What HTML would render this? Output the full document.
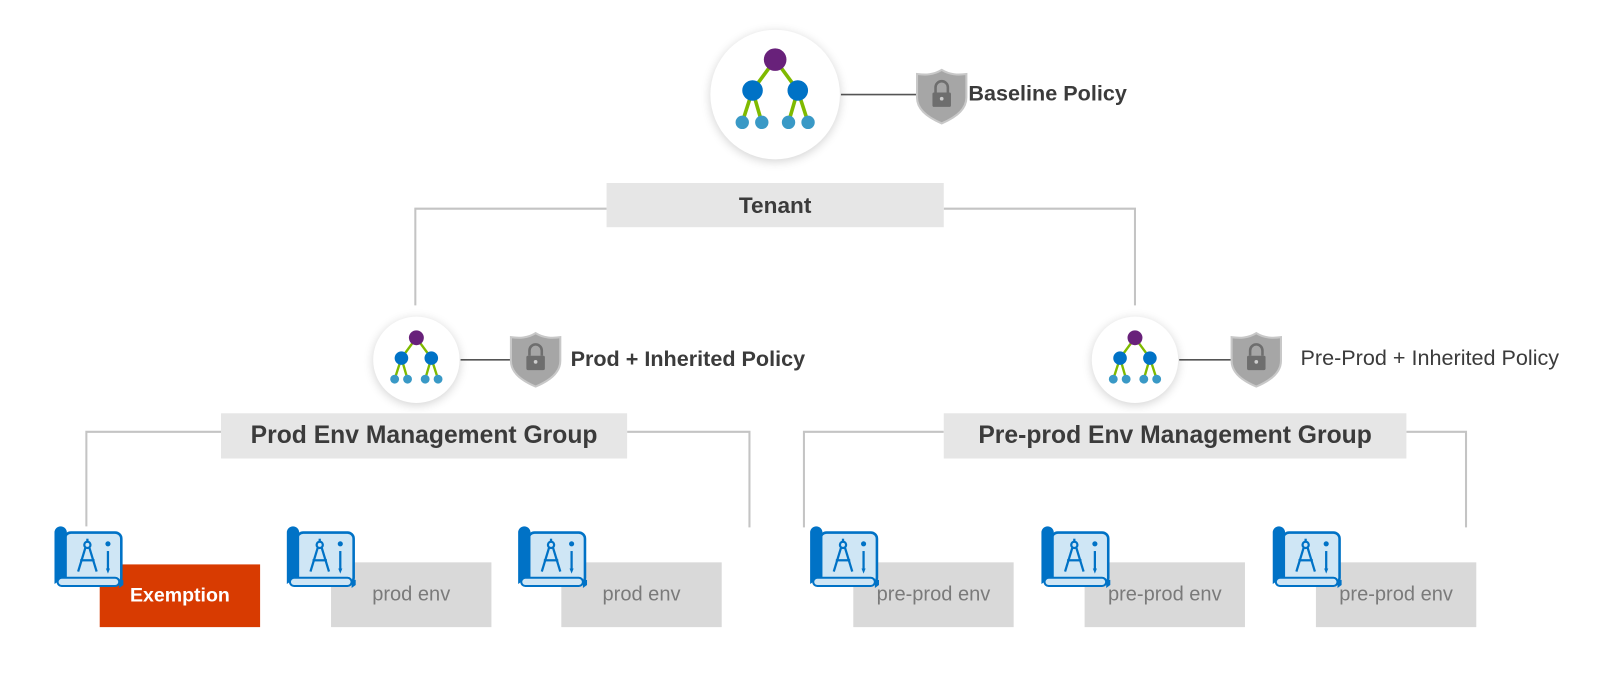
<!DOCTYPE html>
<html><head><meta charset="utf-8"><style>
html,body{margin:0;padding:0;background:#fff;overflow:hidden}
#w{position:absolute;left:0;top:0;width:1568px;height:656px;transform:scale(1.02806);transform-origin:0 0;font-family:"Liberation Sans",sans-serif}
.a{position:absolute}
.box{position:absolute;background:#e6e6e6;color:#3b3b3b;font-weight:bold;text-align:center;display:flex;align-items:center;justify-content:center}
.env{position:absolute;background:#d9d9d9;color:#7a7a7a;font-size:19.5px;display:flex;align-items:center;justify-content:center;width:156px;height:63px}
.circ{position:absolute;border-radius:50%;background:#fff;box-shadow:0 2px 10px rgba(0,0,0,0.18)}
</style></head><body><div id="w">
<svg class="a" style="left:0;top:0" width="1568" height="656">
<g stroke="#c4c4c4" stroke-width="2" fill="none">
<polyline points="590,203 404,203 404,297"/>
<polyline points="918,203 1104,203 1104,297"/>
<polyline points="215,420 84,420 84,512"/>
<polyline points="610,420 729,420 729,513"/>
<polyline points="918,420 782,420 782,513"/>
<polyline points="1368,420 1426,420 1426,513"/>
</g>
<g stroke="#555" stroke-width="1.5">
<line x1="818" y1="92" x2="893" y2="92"/>
<line x1="448" y1="350" x2="498" y2="350"/>
<line x1="1147" y1="350" x2="1200" y2="350"/>
</g>
</svg>
<div class="circ" style="left:691px;top:29px;width:126px;height:126px"></div>
<div class="circ" style="left:363px;top:308px;width:84px;height:84px"></div>
<div class="circ" style="left:1062px;top:308px;width:84px;height:84px"></div>
<svg class="a" width="1568" height="656" style="left:0;top:0">
<defs>
<g id="tree">
<g stroke="#7fba00" stroke-width="3.5"><line x1="0" y1="-34" x2="-22" y2="-4"/><line x1="0" y1="-34" x2="22" y2="-4"/><line x1="-22" y1="-4" x2="-32" y2="27"/><line x1="-22" y1="-4" x2="-13" y2="27"/><line x1="22" y1="-4" x2="13" y2="27"/><line x1="22" y1="-4" x2="32" y2="27"/></g>
<circle cx="0" cy="-34" r="11" fill="#68217a"/>
<circle cx="-22" cy="-4" r="10" fill="#0072c6"/><circle cx="22" cy="-4" r="10" fill="#0072c6"/>
<circle cx="-32" cy="27" r="6.5" fill="#3999c6"/><circle cx="-13" cy="27" r="6.5" fill="#3999c6"/><circle cx="13" cy="27" r="6.5" fill="#3999c6"/><circle cx="32" cy="27" r="6.5" fill="#3999c6"/>
</g>
<g id="shield">
<path d="M0,-25 C8,-20 16,-20 24,-21 L24,2 C24,14 12,22 0,27 C-12,22 -24,14 -24,2 L-24,-21 C-16,-20 -8,-20 0,-25Z" fill="#a6a6a6" stroke="#c8c8c8" stroke-width="2"/>
<rect x="-9" y="-3" width="18" height="14" rx="1.5" fill="#6e6e6e"/>
<path d="M-6,-3 V-8 A6,6 0 0 1 6,-8 V-3" fill="none" stroke="#6e6e6e" stroke-width="2.5"/>
<circle cx="0" cy="3" r="1.8" fill="#ccc"/>
</g>
<g id="bp">
<rect x="10" y="6" width="55" height="50" rx="6" fill="#cfe6f5" stroke="#0072c6" stroke-width="2.5"/>
<path d="M0,6 A6,6 0 0 1 12,6 V56 L6,52 L0,56 Z" fill="#0072c6"/>
<rect x="3" y="50" width="60" height="8" rx="4" fill="#cfe6f5" stroke="#0072c6" stroke-width="2"/>
<path d="M63,52 V60 L67,57 V52Z" fill="#0072c6"/>
<g stroke="#0072c6" stroke-width="2.2" fill="none"><circle cx="32" cy="18" r="3"/><line x1="32" y1="12" x2="32" y2="15"/><line x1="30" y1="21" x2="23" y2="44"/><line x1="34" y1="21" x2="41" y2="44"/><line x1="25" y1="33" x2="39" y2="33"/><line x1="52" y1="24" x2="52" y2="41"/></g>
<circle cx="52" cy="17" r="2.5" fill="#0072c6"/><path d="M50,41 L54,41 L52,46Z" fill="#0072c6"/>
</g>
</defs>
<use href="#tree" transform="translate(754,92)"/>
<use href="#tree" transform="translate(405,351) scale(0.66)"/>
<use href="#tree" transform="translate(1104,351) scale(0.66)"/>
<use href="#shield" transform="translate(916,93)"/>
<use href="#shield" transform="translate(521,349)"/>
<use href="#shield" transform="translate(1222,349)"/>
</svg>
<div class="a" style="left:942px;top:80px;font-size:21px;font-weight:bold;color:#3b3b3b">Baseline Policy</div>
<div class="a" style="left:555px;top:338px;font-size:21px;font-weight:bold;color:#3b3b3b">Prod + Inherited Policy</div>
<div class="a" style="left:1265px;top:337px;font-size:21px;color:#3b3b3b">Pre-Prod + Inherited Policy</div>
<div class="box" style="left:590px;top:178px;width:328px;height:43px;font-size:22px">Tenant</div>
<div class="box" style="left:215px;top:402px;width:395px;height:44px;font-size:24px">Prod Env Management Group</div>
<div class="box" style="left:918px;top:402px;width:450px;height:44px;font-size:24px">Pre-prod Env Management Group</div>
<div class="a" style="left:97px;top:549px;width:156px;height:61px;background:#d83b01;color:#fff;font-weight:bold;font-size:19px;display:flex;align-items:center;justify-content:center">Exemption</div>
<div class="env" style="left:322px;top:547px">prod env</div>
<div class="env" style="left:546px;top:547px">prod env</div>
<div class="env" style="left:830px;top:547px">pre-prod env</div>
<div class="env" style="left:1055px;top:547px">pre-prod env</div>
<div class="env" style="left:1280px;top:547px">pre-prod env</div>
<svg class="a" width="1568" height="656" style="left:0;top:0">
<use href="#bp" transform="translate(53,512)"/>
<use href="#bp" transform="translate(279,512)"/>
<use href="#bp" transform="translate(504,512)"/>
<use href="#bp" transform="translate(788,512)"/>
<use href="#bp" transform="translate(1013,512)"/>
<use href="#bp" transform="translate(1238,512)"/>
</svg>
</div></body></html>
